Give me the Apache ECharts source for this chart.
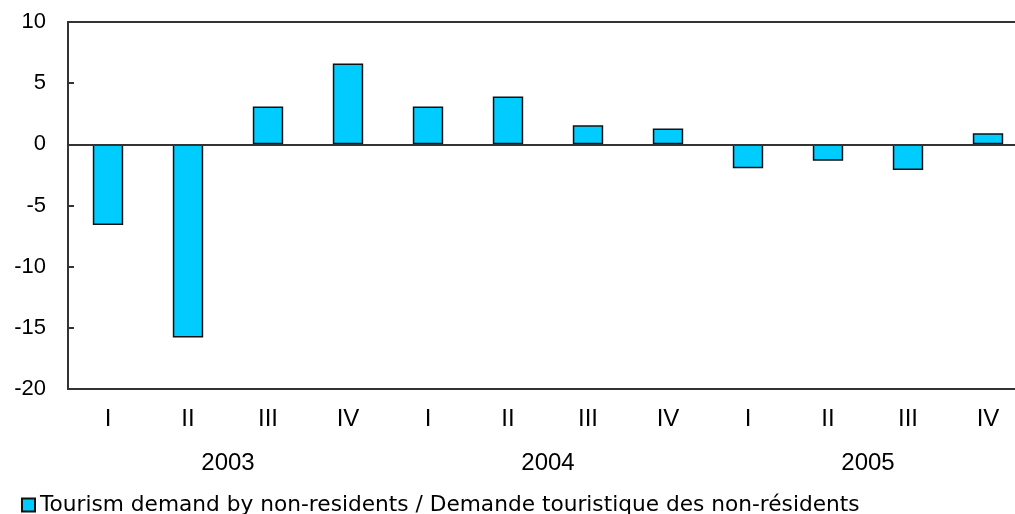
<!DOCTYPE html>
<html>
<head>
<meta charset="utf-8">
<script src="https://cdn.jsdelivr.net/npm/echarts@6/dist/echarts.min.js"></script>
<style>
  html, body { margin: 0; padding: 0; background: #fff; overflow: hidden; }
  #chart { width: 1015px; height: 514px; }
</style>
</head>
<body>
<div id="chart"></div>
<script>
var quarters = ['I', 'II', 'III', 'IV', 'I', 'II', 'III', 'IV', 'I', 'II', 'III', 'IV'];
var years = ['2003', '2004', '2005'];
var demand = [-6.6, -15.8, 3.1, 6.6, 3.1, 3.9, 1.55, 1.3, -1.95, -1.35, -2.1, 0.9];
var seriesName = 'Tourism demand by non-residents / Demande touristique des non-résidents';

var myChart = echarts.init(document.getElementById('chart'));
var font = 'Liberation Sans, Arial, sans-serif';

option = {
  animation: false,
  textStyle: { fontFamily: font },
  grid: {
    left: 68,
    top: 22,
    width: 960,
    bottom: 125,
    outerBoundsMode: 'none',
    containLabel: false,
    show: true,
    borderColor: '#333',
    borderWidth: 2
  },
  legend: {
    left: 16,
    top: 489,
    itemWidth: 13,
    itemHeight: 13,
    itemGap: 6,
    icon: 'rect',
    textStyle: { fontSize: 21.7, color: '#000', fontFamily: 'DejaVu Sans' },
    data: [seriesName]
  },
  xAxis: [
    {
      type: 'category',
      data: quarters,
      position: 'bottom',
      axisLine: { onZero: false, lineStyle: { color: '#333', width: 2 } },
      axisTick: { inside: true, length: 5, lineStyle: { color: '#333', width: 2 } },
      axisLabel: { fontSize: 24, color: '#000', margin: 18 }
    },
    {
      type: 'category',
      data: years,
      position: 'bottom',
      axisLine: { show: false },
      axisTick: { show: false },
      axisLabel: { fontSize: 24, color: '#000', margin: 62 }
    }
  ],
  yAxis: {
    type: 'value',
    min: -20,
    max: 10,
    interval: 5,
    axisLine: { show: true, lineStyle: { color: '#333', width: 2 } },
    axisTick: { show: true, inside: true, length: 6, lineStyle: { color: '#333', width: 2 } },
    splitLine: { show: false },
    axisLabel: { fontSize: 22, color: '#000', margin: 22 }
  },
  series: [
    {
      name: seriesName,
      type: 'bar',
      data: demand,
      barWidth: '38%',
      itemStyle: {
        color: '#00CCFF',
        borderColor: '#111',
        borderWidth: 1.5
      },
      markLine: {
        silent: true,
        symbol: 'none',
        label: { show: false },
        lineStyle: { color: '#333', width: 2, type: 'solid' },
        data: [{ yAxis: 0 }]
      }
    }
  ]
};

myChart.setOption(option);
</script>
</body>
</html>
